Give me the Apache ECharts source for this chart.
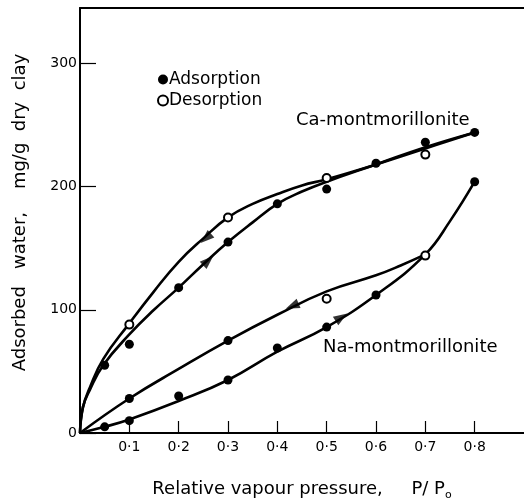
<!DOCTYPE html>
<html>
<head>
<meta charset="utf-8">
<script src="https://cdn.jsdelivr.net/npm/echarts@6/dist/echarts.min.js"></script>
<style>html,body{margin:0;padding:0;background:#fff;}#c{width:524px;height:500px;}</style>
</head>
<body>
<div id="c"></div>
<script>
// ---- data ----
const xTicks = [0.1,0.2,0.3,0.4,0.5,0.6,0.7,0.8];
const yTicks = [0,100,200,300];

// measured points
const caAdsX = [0.05,0.1,0.2,0.3,0.4,0.5,0.6,0.7,0.8];
const caAdsY = [55,72,118,155,186,198,219,236,244];
const caDesX = [0.1,0.3,0.5,0.7];
const caDesY = [88,175,207,226];
const naAdsX = [0.05,0.1,0.2,0.3,0.4,0.5,0.6,0.8];
const naAdsY = [5,10,30,43,69,86,112,204];
const naUpperFilledX = [0.1,0.3];
const naUpperFilledY = [28,75];
const naDesX = [0.5,0.7];
const naDesY = [109,144];

// fitted curves
const caAdsCurveX = [0,0.006,0.02,0.047,0.1,0.15,0.2,0.25,0.3,0.35,0.4,0.45,0.5,0.6,0.7,0.8];
const caAdsCurveY = [0,21,35,55,80,100,118,137,155,171,186,196,204,218,232,244];
const caDesCurveX = [0,0.006,0.02,0.047,0.1,0.15,0.2,0.25,0.3,0.35,0.4,0.45,0.5,0.6,0.7,0.8];
const caDesCurveY = [0,21,37,60,89,115,139,158,175,186,194,201,206,218,231,244];
const naAdsCurveX = [0,0.05,0.1,0.2,0.3,0.4,0.5,0.6,0.7,0.75,0.8];
const naAdsCurveY = [0,5,11,26,43,66,86,112,145,172,204];
const naDesCurveX = [0,0.1,0.2,0.3,0.4,0.5,0.6,0.65,0.7];
const naDesCurveY = [0,28,52,75,96,115,128,136,145];

// direction arrows on the curves
const arrowX = [0.26,0.255,0.43,0.53];
const arrowY = [140,158,103,94];
const arrowRot = [-47,132,113,-57];

const pairs = (xs, ys) => xs.map((x,i)=>[x, ys[i]]);
const FONT = 'DejaVu Sans';

const curve = (xs, ys) => ({
  type:'line', data: pairs(xs,ys), smooth:0.45,
  showSymbol:false, symbol:'none', silent:true, z:2,
  lineStyle:{color:'#000', width:2.6}
});
const filled = (name, xs, ys) => ({
  type:'scatter', name, data: pairs(xs,ys), symbol:'circle', symbolSize:9, z:4,
  itemStyle:{color:'#000', opacity:1}
});
const open = (name, xs, ys) => ({
  type:'scatter', name, data: pairs(xs,ys), symbol:'emptyCircle', symbolSize:8, z:5,
  itemStyle:{color:'#000', borderWidth:1.4, opacity:1}
});

const chart = echarts.init(document.getElementById('c'), null, {renderer:'canvas'});
chart.setOption({
  animation:false,
  backgroundColor:'#fff',
  textStyle:{fontFamily:FONT, color:'#000'},
  grid:{left:80, right:0, top:8, bottom:67, containLabel:false, outerBoundsMode:'none'},
  legend:{
    orient:'vertical', left:152, top:66, itemWidth:10, itemHeight:10, itemGap:4,
    data:['Adsorption','Desorption'],
    textStyle:{fontFamily:FONT, fontSize:17, color:'#000', padding:[0,0,0,-4]},
    selectedMode:false
  },
  xAxis:[{
    type:'value', min:0, max:0.9, interval:0.1,
    axisLine:{show:true, onZero:false, lineStyle:{color:'#000', width:2}},
    axisTick:{show:true, inside:true, length:12, customValues:xTicks, lineStyle:{color:'#000', width:1.2}},
    splitLine:{show:false},
    axisLabel:{margin:7, fontFamily:FONT, fontSize:14, color:'#000', customValues:xTicks,
      formatter:v=>'0·'+Math.round(v*10)},
    name:'{n|Relative vapour pressure,     P/ P}{s|o}',
    nameLocation:'middle', nameGap:45,
    nameTextStyle:{rich:{
      n:{fontFamily:FONT, fontSize:18, color:'#000'},
      s:{fontFamily:FONT, fontSize:11, color:'#000', padding:[12,0,0,0]}
    }}
  },{
    type:'value', position:'top', min:0, max:0.9,
    axisLine:{show:true, onZero:false, lineStyle:{color:'#000', width:2}},
    axisTick:{show:false}, axisLabel:{show:false}, splitLine:{show:false}
  }],
  yAxis:{
    type:'value', min:0, max:345, interval:100,
    axisLine:{show:true, onZero:false, lineStyle:{color:'#000', width:2}},
    axisTick:{show:true, inside:true, length:16, customValues:yTicks, lineStyle:{color:'#000', width:1.2}},
    splitLine:{show:false},
    axisLabel:{margin:3, fontFamily:FONT, fontSize:14, color:'#000', customValues:yTicks,
      formatter:v=>String(v)},
    name:'Adsorbed   water,    mg/g  dry  clay',
    nameLocation:'middle', nameGap:51, nameRotate:90,
    nameTextStyle:{fontFamily:FONT, fontSize:18, color:'#000', padding:[0,0,0,16]}
  },
  graphic:[
    {type:'text', x:296, y:120, style:{text:'Ca-montmorillonite', font:'18px "DejaVu Sans"', fill:'#000', verticalAlign:'middle'}},
    {type:'text', x:323, y:347, style:{text:'Na-montmorillonite', font:'18px "DejaVu Sans"', fill:'#000', verticalAlign:'middle'}}
  ],
  series:[
    curve(caAdsCurveX, caAdsCurveY),
    curve(caDesCurveX, caDesCurveY),
    curve(naAdsCurveX, naAdsCurveY),
    curve(naDesCurveX, naDesCurveY),
    {
      type:'scatter', silent:true, z:3, symbol:'triangle', symbolSize:[10,14],
      itemStyle:{color:'#000'},
      data: arrowX.map((x,i)=>({value:[x, arrowY[i]], symbolRotate:arrowRot[i]}))
    },
    filled('Adsorption', caAdsX, caAdsY),
    filled('Adsorption', naAdsX, naAdsY),
    filled('Adsorption', naUpperFilledX, naUpperFilledY),
    open('Desorption', caDesX, caDesY),
    open('Desorption', naDesX, naDesY)
  ]
});
</script>
</body>
</html>
